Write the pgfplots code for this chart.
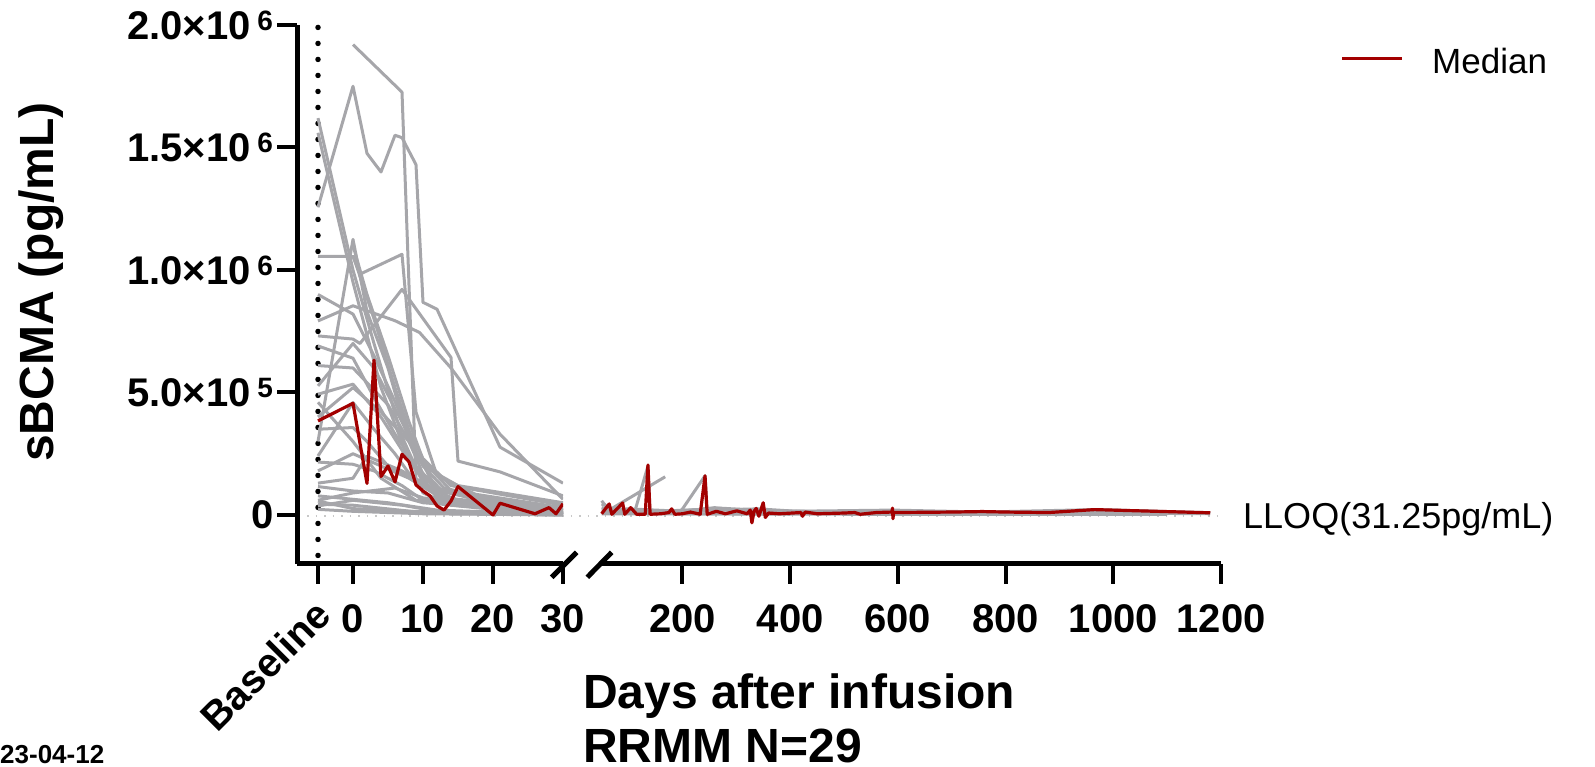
\documentclass[border=0pt]{standalone}
\usepackage{pgfplots}
\pgfplotsset{compat=1.18}
\usepackage{fontspec}
\setmainfont{Liberation Sans}
\definecolor{pgrey}{RGB}{166,166,170}
\definecolor{pred}{RGB}{163,0,0}
\definecolor{lloq}{RGB}{200,200,200}
\newcommand\tfont{\fontsize{40}{40}\selectfont\bfseries}
\newcommand\lfont{\fontsize{48}{48}\selectfont\bfseries}
\begin{document}
\begin{tikzpicture}[x=1pt,y=1pt]
\useasboundingbox (0,0) rectangle (1595,767);
\pgfplotsset{
 myaxis/.style={
  scale only axis, height=539pt, ymin=-200, ymax=2000,
  axis line style={line width=5pt},
  tick align=outside, major tick length=20pt,
  every tick/.style={black, line width=4pt},
  tick label style={font=\tfont},
  xticklabel style={yshift=-17pt},
 },
 grey/.style={pgrey, line width=3pt, mark=none, line join=round},
 med/.style={pred, line width=3.2pt, mark=none, line join=round},
}
\draw[lloq, line width=1.5pt, dash pattern=on 1.5pt off 7pt] (307,251) -- (1221,251);
% ---------------- left segment ----------------
\begin{axis}[myaxis, at={(297pt,203pt)}, anchor=south west, width=266pt,
  xmin=-8, xmax=30, axis x line*=bottom, axis y line*=left,
  xtick={0,10,20,30}, xticklabels={0,10,20,30},
  ytick={0,500,1000,1500,2000},
  yticklabels={0,{5.0×10\,\textsuperscript{5}},{1.0×10\,\textsuperscript{6}},{1.5×10\,\textsuperscript{6}},{2.0×10\,\textsuperscript{6}}},
  extra x ticks={-5}, extra x tick labels={Baseline},
  extra x tick style={xticklabel style={yshift=9pt, xshift=-5pt, rotate=45, anchor=north east}},
]
\addplot[black, line width=5.5pt, dash pattern=on 0pt off 16pt, line cap=round] coordinates {(-5,1990) (-5,-200)};
\addplot[grey] coordinates {(0,1920) (7,1726) (9,150) (10,90) (14,40) (21,20) (30,5)};
\addplot[grey] coordinates {(-5,1256) (0,1750) (2,1476) (4,1400) (6,1550) (7,1540) (9,1430) (10,868) (12,840) (21,277) (30,130)};
\addplot[grey] coordinates {(-5,1620) (0,1000) (3,700) (7,320) (10,130) (14,40) (30,10)};
\addplot[grey] coordinates {(-5,1560) (0,950) (4,520) (8,220) (12,70) (30,15)};
\addplot[grey] coordinates {(-5,1056) (0,1055) (1,983) (7,1064) (9,420) (12,160) (20,50) (30,20)};
\addplot[grey] coordinates {(-5,300) (0,1125) (2,830) (5,600) (8,300) (11,100) (15,40) (30,8)};
\addplot[grey] coordinates {(-5,731) (0,718) (1,700) (7,921) (14,643) (15,220) (21,176) (30,78)};
\addplot[grey] coordinates {(-5,792) (0,854) (6,793) (9.5,745) (14,600) (21,330) (30,64)};
\addplot[grey] coordinates {(-5,690) (0,640) (3,480) (6,330) (9,200) (12,110) (20,40) (30,23)};
\addplot[grey] coordinates {(-5,527) (0,700) (3,600) (7,380) (10,200) (15,120) (30,50)};
\addplot[grey] coordinates {(-5,493) (0,534) (4,400) (8,220) (12,100) (20,50) (30,10)};
\addplot[grey] coordinates {(-5,350) (0,357) (2,300) (5,200) (10,120) (15,60) (30,5)};
\addplot[grey] coordinates {(-5,241) (0,459) (3,350) (6,250) (9,130) (13,70) (30,20)};
\addplot[grey] coordinates {(-5,216) (0,207) (3,180) (7,120) (10,60) (20,30) (30,5)};
\addplot[grey] coordinates {(-5,116) (0,98) (5,90) (10,50) (30,5)};
\addplot[grey] coordinates {(-5,78) (0,64) (5,50) (12,20) (30,2)};
\addplot[grey] coordinates {(-5,57) (0,26) (8,15) (30,0)};
\addplot[grey] coordinates {(-5,44) (0,40) (10,10) (30,0)};
\addplot[grey] coordinates {(-5,37) (0,60) (7,40) (14,5) (30,1)};
\addplot[grey] coordinates {(-5,23) (0,15) (10,5) (30,0)};
\addplot[grey] coordinates {(0,1100) (2,900) (5,650) (8,380) (11,150) (14,60) (30,20)};
\addplot[grey] coordinates {(0,1060) (3,800) (6,520) (9,260) (12,100) (30,10)};
\addplot[grey] coordinates {(-5,400) (0,520) (4,420) (8,300) (10,200) (13,110) (21,60) (30,20)};
\addplot[grey] coordinates {(-5,610) (0,600) (5,450) (9,250) (14,100) (30,30)};
\addplot[grey] coordinates {(-5,180) (0,250) (4,200) (8,150) (12,80) (20,30) (30,10)};
\addplot[grey] coordinates {(-5,460) (0,300) (4,150) (9,60) (30,5)};
\addplot[grey] coordinates {(-5,900) (0,820) (3,650) (7,400) (10,230) (14,120) (30,40)};
\addplot[grey] coordinates {(-5,130) (0,150) (2,240) (7,180) (12,100) (30,15)};
\addplot[grey] coordinates {(-5,60) (0,90) (6,110) (10,70) (20,30) (30,5)};
\addplot[med] coordinates {(-5,384) (0,456) (2,129) (3,632) (4,157) (5,200) (6,135) (7,248) (8,217) (9,123) (10,98) (11,78) (12,37) (13,20) (14,57) (15,116) (20,0) (21,48) (26,5) (28,30) (29,5) (30,46)};
\end{axis}
% ---------------- right segment ----------------
\begin{axis}[myaxis, at={(600pt,203pt)}, anchor=south west, width=621pt,
  xmin=47, xmax=1200, axis x line*=bottom, axis y line=none,
  xtick={200,400,600,800,1000,1200}, xticklabels={200,400,600,800,1000,1200},
  ytick=\empty,
]
\addplot[grey] coordinates {(50,58) (64,20) (168,156)};
\addplot[grey] coordinates {(110,2) (136,200) (140,5) (180,10)};
\addplot[grey] coordinates {(195,8) (242,160) (246,5) (300,10)};
\addplot[grey] coordinates {(50,30) (80,15) (150,10) (250,25) (350,12) (500,8) (700,5) (900,5) (1000,8) (1180,5)};
\addplot[grey] coordinates {(50,20) (100,25) (200,15) (260,30) (330,10) (400,12) (600,8) (800,10) (1000,20) (1150,10)};
\addplot[grey] coordinates {(55,10) (120,8) (200,20) (300,22) (400,15) (590,20) (760,12) (965,22) (1180,9)};
\addplot[grey] coordinates {(50,5) (150,5) (300,5) (500,3) (700,3) (900,2) (1100,3)};
\addplot[grey] coordinates {(60,15) (130,12) (220,18) (340,25) (450,10) (600,10)};
\addplot[grey] coordinates {(50,45) (70,25) (110,12) (200,5) (400,3)};
\addplot[grey] coordinates {(80,10) (180,15) (270,28) (350,18) (520,12) (700,8) (850,6)};
\addplot[med] coordinates {(50,5) (64,45) (69,3) (89,49) (93,3) (104,30) (115,3) (131,3) (136,204) (140,3) (160,5) (175,10) (180,25) (186,3) (200,5) (215,12) (233,3) (242,160) (246,3) (263,15) (280,5) (301,17) (320,5) (326,20) (329,-32) (333,15) (337,27) (342,-5) (350,50) (354,-10) (360,8) (380,5) (420,10) (423,-5) (428,12) (450,5) (500,8) (520,10) (530,3) (560,10) (589,12) (590,28) (591,-15) (592,10) (700,12) (757,14) (800,12) (880,10) (965,22) (1030,18) (1180,9)};
\end{axis}
% break marks
\draw[line width=5pt] (551.7,189.7) -- (576.7,214.7);
\draw[line width=5pt] (587.3,189.7) -- (611.7,214.7);
% texts
\node[rotate=90, font=\lfont] at (41,485) {sBCMA (pg/mL)};
\node[anchor=base west, inner sep=0, font=\lfont] at (583,58) {Days after infusion};
\node[anchor=base west, inner sep=0, font=\lfont] at (583,4) {RRMM N=29};
\node[anchor=base west, inner sep=0, font=\fontsize{26}{26}\selectfont\bfseries] at (0,3) {23-04-12};
\node[anchor=west, inner sep=0, font=\fontsize{36}{36}\selectfont] at (1243,248) {LLOQ(31.25pg/mL)};
\draw[pred, line width=3pt] (1342,708) -- (1402,708);
\node[anchor=west, inner sep=0, font=\fontsize{35}{35}\selectfont] at (1432,706) {Median};
\end{tikzpicture}
\end{document}
